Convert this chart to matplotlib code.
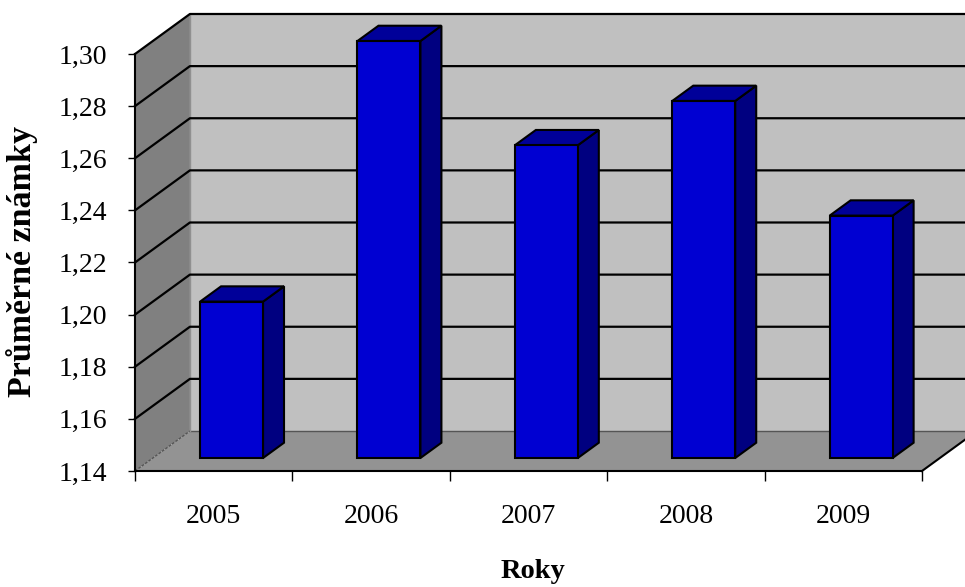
import matplotlib
matplotlib.use("Agg")
import matplotlib.pyplot as plt
from matplotlib.patches import Polygon

plt.rcParams['font.family'] = ['Liberation Serif', 'DejaVu Serif']

years = ['2005', '2006', '2007', '2008', '2009']
grades = [1.20, 1.30, 1.26, 1.277, 1.233]
y_ticks = [1.14, 1.16, 1.18, 1.20, 1.22, 1.24, 1.26, 1.28, 1.30]

# oblique "3D" look like the old excel charts
DX = 0.349      # depth shift in category units
DY = 0.01535    # depth shift in value units
Z0 = 0.325      # bar front plane
Z1 = 0.707      # bar back plane
BAR_W = 0.4


def proj(x, y, z):
    return (x + z * DX, y + z * DY)


def face(ax, pts, fc, ec='none', lw=0, zorder=1):
    poly = Polygon([proj(*p) for p in pts], closed=True, facecolor=fc,
                   edgecolor=ec, linewidth=lw, clip_on=False, zorder=zorder,
                   joinstyle='miter')
    ax.add_patch(poly)


def line3(ax, pts, **kw):
    xy = [proj(*p) for p in pts]
    ax.plot([p[0] for p in xy], [p[1] for p in xy], clip_on=False, **kw)


fig = plt.figure(figsize=(9.65, 5.87), dpi=100)
ax = fig.add_axes([135 / 965, 116 / 587, 787 / 965, 417 / 587])
ax.patch.set_visible(False)

n = len(years)
lo = y_ticks[0]
hi = y_ticks[-1]
ax.set_xlim(0, n)
ax.set_ylim(lo, hi)

# walls and floor
face(ax, [(0, lo, 0), (0, lo, 1), (0, hi, 1), (0, hi, 0)], '#808080', zorder=0.5)
face(ax, [(0, lo, 1), (n, lo, 1), (n, hi, 1), (0, hi, 1)], '#c0c0c0', zorder=0.5)
face(ax, [(0, lo, 0), (n, lo, 0), (n, lo, 1), (0, lo, 1)], '#939393', zorder=0.6)
line3(ax, [(0, lo, 1), (n, lo, 1)], color='#555555', lw=1, zorder=0.7)
line3(ax, [(0, lo, 0), (0, lo, 1)], color='#555555', lw=1, ls=(0, (2, 1)), zorder=0.7)
line3(ax, [(0, lo, 1), (0, hi, 1)], color='#909090', lw=1, zorder=0.7)
line3(ax, [(n, lo, 0), (n, lo, 1)], color='black', lw=1.5, zorder=0.8)

# gridlines
for v in y_ticks[1:]:
    line3(ax, [(0, v, 0), (0, v, 1), (n, v, 1)], color='black', lw=1.6, zorder=0.8)

# bars
for i, v in enumerate(grades):
    x0 = i + 0.5 - BAR_W / 2
    x1 = i + 0.5 + BAR_W / 2
    face(ax, [(x1, lo, Z0), (x1, lo, Z1), (x1, v, Z1), (x1, v, Z0)], '#000080', 'black', 1.5, 2)
    face(ax, [(x0, v, Z0), (x1, v, Z0), (x1, v, Z1), (x0, v, Z1)], '#000099', 'black', 1.5, 2)
    face(ax, [(x0, lo, Z0), (x1, lo, Z0), (x1, v, Z0), (x0, v, Z0)], '#0000d2', 'black', 1.5, 2.1)

for s in ['top', 'right']:
    ax.spines[s].set_visible(False)
for s in ['left', 'bottom']:
    ax.spines[s].set_linewidth(1.5)

ax.set_yticks(y_ticks)
ax.set_yticklabels([('%.2f' % t).replace('.', ',') for t in y_ticks])
ax.tick_params(axis='y', direction='out', length=5, width=1, pad=15, labelsize=20)

ax.set_xticks(range(n + 1))
ax.set_xticklabels([])
ax.set_xticks([i + 0.5 for i in range(n)], minor=True)
ax.set_xticklabels(years, minor=True)
ax.tick_params(axis='x', which='major', direction='out', length=7, width=1)
ax.tick_params(axis='x', which='minor', length=0, pad=24, labelsize=20)

ax.set_ylabel('Průměrné známky', fontsize=24.5, fontweight='bold', va='center')
ax.yaxis.set_label_coords((22 - 135) / 787, 0.502)
ax.set_xlabel('Roky', fontsize=20.5, fontweight='bold', va='center')
ax.xaxis.set_label_coords(0.506, -0.242)

fig.savefig('out.png', dpi=100)
